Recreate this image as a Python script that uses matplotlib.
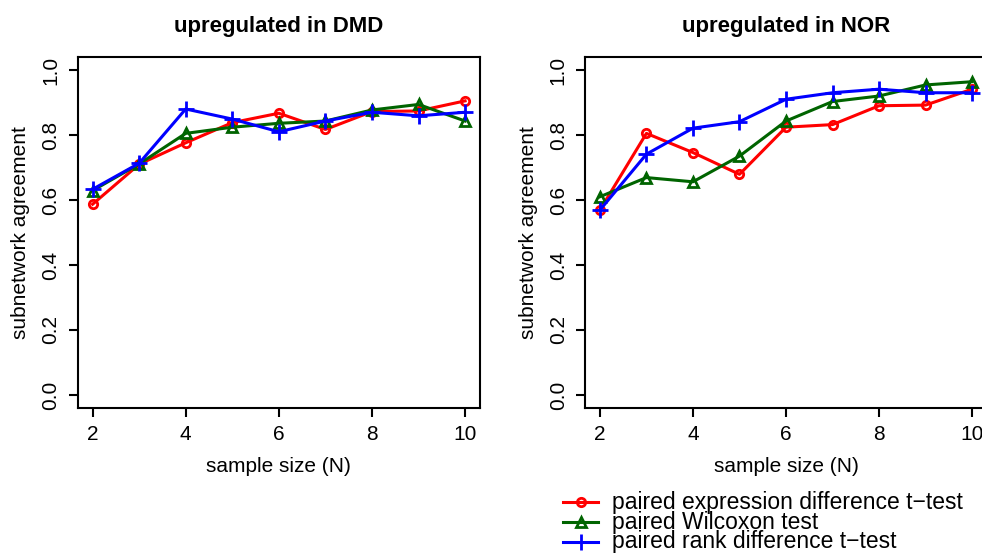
import matplotlib
matplotlib.use("Agg")
import matplotlib.pyplot as plt
from matplotlib.lines import Line2D

plt.rcParams['font.family'] = ['Liberation Sans', 'DejaVu Sans']

sample_sizes = [2, 3, 4, 5, 6, 7, 8, 9, 10]

dmd_expr = [0.587, 0.710, 0.776, 0.838, 0.867, 0.817, 0.872, 0.874, 0.905]
dmd_wilcox = [0.629, 0.711, 0.805, 0.824, 0.836, 0.843, 0.877, 0.894, 0.843]
dmd_rank = [0.633, 0.713, 0.880, 0.849, 0.810, 0.843, 0.870, 0.859, 0.870]

nor_expr = [0.569, 0.805, 0.746, 0.679, 0.824, 0.832, 0.890, 0.892, 0.941]
nor_wilcox = [0.610, 0.669, 0.656, 0.735, 0.843, 0.903, 0.920, 0.954, 0.964]
nor_rank = [0.569, 0.741, 0.821, 0.841, 0.910, 0.930, 0.941, 0.930, 0.930]

titles = ["upregulated in DMD", "upregulated in NOR"]
series_labels = ["paired expression difference t\u2212test",
                 "paired Wilcoxon test",
                 "paired rank difference t\u2212test"]
colors = ["#ff0000", "#006400", "#0000ff"]
markers = ["o", "^", "+"]
msizes = [6, 7.5, 11]

x_ticks = [2, 4, 6, 8, 10]
y_ticks = [0.0, 0.2, 0.4, 0.6, 0.8, 1.0]

W, H = 982, 556
fig = plt.figure(figsize=(W / 100, H / 100), dpi=100)

panels = [
    ((77.7, 57, 480, 408), [dmd_expr, dmd_wilcox, dmd_rank]),
    ((585, 57, 987, 408), [nor_expr, nor_wilcox, nor_rank]),
]

for i, ((x0, y0, x1, y1), data) in enumerate(panels):
    ax = fig.add_axes([x0 / W, 1 - y1 / H, (x1 - x0) / W, (y1 - y0) / H])
    for vals, c, m, ms in zip(data, colors, markers, msizes):
        ax.plot(sample_sizes, vals, color=c, lw=2.2, marker=m, ms=ms,
                markerfacecolor='none', markeredgecolor=c, mew=2.0)
    ax.set_xlim(1.68, 10.32)
    ax.set_ylim(-0.04, 1.04)
    ax.set_xticks(x_ticks)
    ax.set_yticks(y_ticks)
    ax.set_yticklabels([f"{v:.1f}" for v in y_ticks], rotation=90, va='center')
    ax.tick_params(axis='both', length=6.5, width=1.5, labelsize=15, pad=6)
    for s in ax.spines.values():
        s.set_linewidth(1.5)
    ax.set_title(titles[i], fontsize=16, fontweight='bold', pad=18)
    ax.set_xlabel("sample size (N)", fontsize=15, labelpad=9)
    ax.set_ylabel("subnetwork agreement", fontsize=15, labelpad=8)

# legend (manual, R-style)
rows_y = [502, 522, 542]
for c, m, ms, yy in zip(colors, markers, msizes, rows_y):
    yf = 1 - yy / H
    fig.add_artist(Line2D([563 / W, 598 / W], [yf, yf], color=c, lw=2.2,
                          transform=fig.transFigure))
    fig.add_artist(Line2D([580.5 / W], [yf], color=c, marker=m, ms=ms,
                          markerfacecolor='none', markeredgecolor=c, mew=2.0,
                          transform=fig.transFigure))
fig.text(612 / W, 1 - rows_y[1] / H, "\n".join(series_labels), fontsize=16.5,
         va='center', ha='left', linespacing=0.78)

fig.savefig("out.png", dpi=100)
